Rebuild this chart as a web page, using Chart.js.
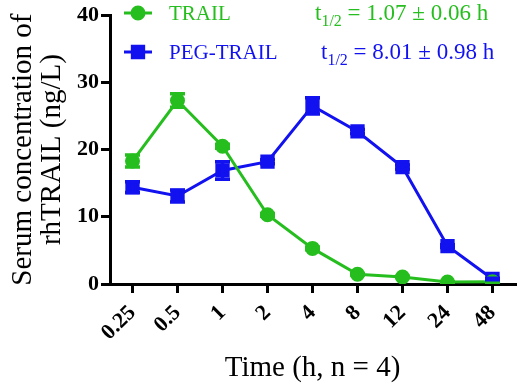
<!DOCTYPE html>
<html lang="en">
<head>
<meta charset="UTF-8">
<title>rhTRAIL serum concentration</title>
<style>
  html, body { margin: 0; padding: 0; background: #fff; }
  #wrap { width: 526px; height: 386px; }
</style>
</head>
<body>
<div id="wrap"><canvas id="pkChart"></canvas></div>
<script src="https://cdn.jsdelivr.net/npm/chart.js@4.4.1/dist/chart.umd.min.js"></script>
<script>
  // data
  const timeLabels = ['0.25', '0.5', '1', '2', '4', '8', '12', '24', '48'];
  const trailMean = [18.3, 27.3, 20.5, 10.3, 5.3, 1.45, 1.05, 0.3, 0.35];
  const trailSd   = [0.9, 1.0, 0.3, 0.2, 0.2, 0.1, 0.1, 0.05, 0.05];
  const pegMean   = [14.4, 13.1, 16.9, 18.2, 26.5, 22.7, 17.4, 5.65, 0.75];
  const pegSd     = [0.8, 0.9, 1.3, 0.3, 1.2, 0.3, 0.3, 0.2, 0.1];
  const halfLives = ['1.07 \u00b1 0.06 h', '8.01 \u00b1 0.98 h'];

  const green = 'rgb(38,190,30)';
  const blue = 'rgb(18,18,240)';
  const serif = '"Liberation Serif", "Times New Roman", serif';

  // error bars drawn through the y scale
  const errorBars = {
    id: 'errorBars',
    afterDatasetsDraw(chart) {
      const ctx = chart.ctx;
      const y = chart.scales.y;
      chart.data.datasets.forEach((ds, i) => {
        const meta = chart.getDatasetMeta(i);
        ctx.save();
        ctx.strokeStyle = ds.borderColor;
        ctx.lineWidth = 3.5;
        meta.data.forEach((pt, j) => {
          const err = ds.errors[j];
          const top = y.getPixelForValue(ds.data[j] + err);
          const bot = y.getPixelForValue(ds.data[j] - err);
          ctx.beginPath();
          ctx.moveTo(pt.x, top); ctx.lineTo(pt.x, bot);
          ctx.moveTo(pt.x - 7.5, top); ctx.lineTo(pt.x + 7.5, top);
          ctx.moveTo(pt.x - 7.5, bot); ctx.lineTo(pt.x + 7.5, bot);
          ctx.stroke();
        });
        ctx.restore();
      });
    }
  };

  // legend with half-life text, top of the plot
  const legendBox = {
    id: 'legendBox',
    afterDraw(chart) {
      const ctx = chart.ctx;
      const rows = [
        { y: 13, tx: 315 },
        { y: 52, tx: 321 }
      ];
      chart.data.datasets.forEach((ds, i) => {
        const r = rows[i];
        ctx.save();
        ctx.strokeStyle = ds.borderColor;
        ctx.fillStyle = ds.borderColor;
        ctx.lineWidth = 3;
        ctx.beginPath();
        ctx.moveTo(124, r.y); ctx.lineTo(152, r.y);
        ctx.stroke();
        Chart.helpers.drawPoint(ctx, {
          pointStyle: ds.pointStyle, radius: ds.pointRadius, borderWidth: 1
        }, 138, r.y);
        ctx.textBaseline = 'middle';
        ctx.font = '21px ' + serif;
        ctx.fillText(ds.label, 169, r.y + 1);
        ctx.font = '23px ' + serif;
        let x = r.tx;
        ctx.fillText('t', x, r.y + 1);
        x += ctx.measureText('t').width;
        ctx.font = '16px ' + serif;
        ctx.fillText('1/2', x, r.y + 9);
        x += ctx.measureText('1/2').width;
        ctx.font = '23px ' + serif;
        ctx.fillText(' = ' + halfLives[i], x, r.y + 1);
        ctx.restore();
      });
    }
  };

  new Chart(document.getElementById('pkChart'), {
    type: 'line',
    data: {
      labels: timeLabels,
      datasets: [
        {
          label: 'TRAIL', data: trailMean, errors: trailSd,
          borderColor: green, backgroundColor: green,
          borderWidth: 3, pointStyle: 'circle', pointRadius: 6
        },
        {
          label: 'PEG-TRAIL', data: pegMean, errors: pegSd,
          borderColor: blue, backgroundColor: blue,
          borderWidth: 3, pointStyle: 'rect', pointRadius: 8
        }
      ]
    },
    options: {
      responsive: true,
      maintainAspectRatio: false,
      animation: false,
      layout: { padding: { top: 13, right: 3, left: 0, bottom: 0 } },
      plugins: { legend: { display: false }, tooltip: { enabled: false } },
      scales: {
        x: {
          offset: true,
          grid: { drawOnChartArea: false, color: '#000', lineWidth: 3, tickLength: 9 },
          border: { color: '#000', width: 3 },
          ticks: {
            color: '#000', maxRotation: 45, minRotation: 45, padding: 7,
            font: { family: serif, size: 22, weight: 'bold' }
          },
          title: {
            display: true, text: 'Time (h, n = 4)', color: '#000', padding: 0,
            font: { family: serif, size: 29 }
          },
          afterFit: s => { s.height = 102; }
        },
        y: {
          min: 0, max: 40,
          grid: { drawOnChartArea: false, color: '#000', lineWidth: 3, tickLength: 9 },
          border: { color: '#000', width: 3 },
          ticks: {
            stepSize: 10, color: '#000', padding: 2,
            font: { family: serif, size: 22, weight: 'bold' }
          },
          title: {
            display: true, text: ['Serum concentration of', 'rhTRAIL (ng/L)'], color: '#000',
            padding: { top: 9, bottom: 0 }, font: { family: serif, size: 29, lineHeight: 1.0 }
          },
          afterFit: s => { s.width = 110; }
        }
      }
    },
    plugins: [errorBars, legendBox]
  });
</script>
</body>
</html>
